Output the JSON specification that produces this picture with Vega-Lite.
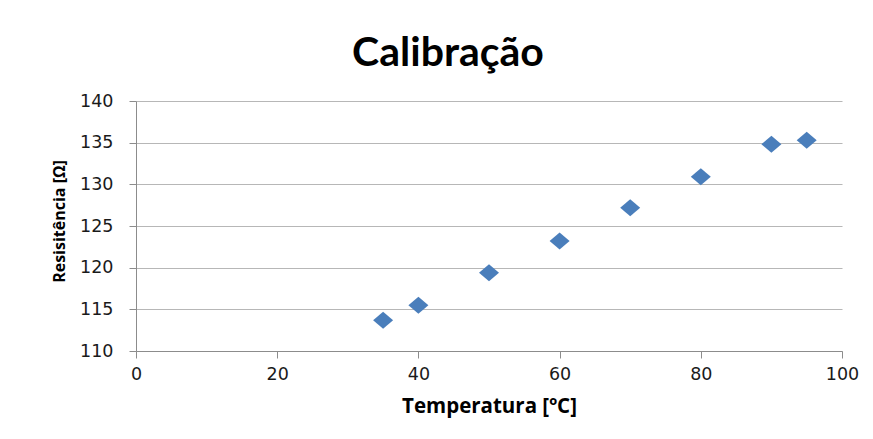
{
  "$schema": "https://vega.github.io/schema/vega-lite/v6.json",
  "autosize": "none",
  "width": 706,
  "height": 250,
  "padding": {"left": 136, "top": 101, "right": 31, "bottom": 88},
  "background": "white",
  "title": {
    "text": "Calibração",
    "font": "Lato",
    "fontSize": 41,
    "fontWeight": "bold",
    "color": "#000000",
    "anchor": "middle",
    "dx": -41,
    "offset": 17
  },
  "config": {
    "view": {"stroke": null},
    "axis": {
      "labelFont": "DejaVu Sans",
      "labelFontSize": 17.5,
      "labelColor": "#1a1a1a",
      "titleFont": "Open Sans",
      "titleFontWeight": "bold",
      "titleColor": "#000000",
      "domainColor": "#8c8c8c",
      "tickColor": "#8c8c8c",
      "gridColor": "#b7b7b7",
      "tickSize": 7
    }
  },
  "data": {
    "values": [
      {"temperatura": 35, "resistencia": 113.7},
      {"temperatura": 40, "resistencia": 115.5},
      {"temperatura": 50, "resistencia": 119.4},
      {"temperatura": 60, "resistencia": 123.2},
      {"temperatura": 70, "resistencia": 127.2},
      {"temperatura": 80, "resistencia": 130.9},
      {"temperatura": 90, "resistencia": 134.8},
      {"temperatura": 95, "resistencia": 135.3}
    ]
  },
  "mark": {
    "type": "point",
    "shape": "M-1,0L0,-0.85L1,0L0,0.85Z",
    "filled": true,
    "size": 400,
    "color": "#4a7ebb",
    "opacity": 1
  },
  "encoding": {
    "x": {
      "field": "temperatura",
      "type": "quantitative",
      "scale": {"domain": [0, 100], "nice": false},
      "axis": {
        "values": [0, 20, 40, 60, 80, 100],
        "grid": false,
        "labelFlush": false,
        "title": "Temperatura [ºC]",
        "titleFontSize": 20.5,
        "titlePadding": 14,
        "labelPadding": 7
      }
    },
    "y": {
      "field": "resistencia",
      "type": "quantitative",
      "scale": {"domain": [110, 140], "nice": false, "zero": false},
      "axis": {
        "values": [110, 115, 120, 125, 130, 135, 140],
        "grid": true,
        "title": "Resisitência [Ω]",
        "titleFontSize": 16,
        "titleY": 120,
        "titlePadding": 12,
        "labelPadding": 16
      }
    }
  }
}
